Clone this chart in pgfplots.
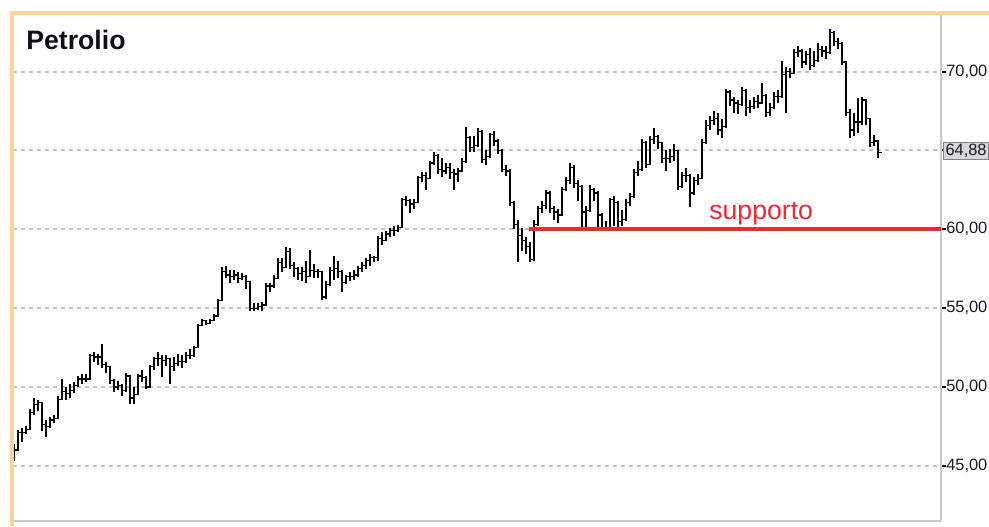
\documentclass[border=0pt]{standalone}
\usepackage{pgfplots}
\pgfplotsset{compat=1.18}
\usepackage{pgfplotstable}
\usepackage{fontspec}
\setmainfont{Liberation Sans}
\definecolor{frameor}{RGB}{255,212,155}
\definecolor{gridg}{RGB}{192,192,192}
\definecolor{axg}{RGB}{200,200,200}
\definecolor{supred}{RGB}{238,40,52}
\definecolor{lbl}{RGB}{25,25,45}
\pgfplotstableread{
x c h l
14 46.0 46.4 45.3
18 47.1 47.3 46.0
22 47.1 47.4 46.5
26 47.3 47.5 47.0
30 48.4 48.6 47.3
34 48.9 49.3 48.2
38 49.0 49.2 48.5
42 47.6 49.0 47.2
46 47.5 47.9 46.8
50 47.9 48.1 47.4
54 48.0 48.2 47.7
58 49.2 49.4 48.0
62 49.7 50.5 49.2
66 49.6 50.0 49.2
70 49.8 50.2 49.3
74 50.1 50.3 49.6
78 50.5 50.7 50.0
82 50.5 50.8 50.2
86 50.5 50.8 50.3
90 52.0 52.1 50.5
94 51.9 52.2 51.6
98 51.9 52.1 51.4
102 51.4 52.7 51.2
106 51.3 51.6 50.9
110 50.4 51.3 50.2
114 50.0 50.5 49.7
118 50.1 50.4 49.8
122 49.8 50.2 49.4
126 50.7 50.9 49.7
130 49.3 50.5 48.9
134 49.5 50.0 48.9
138 50.7 50.8 49.5
142 50.6 51.1 50.3
146 50.0 50.7 49.9
150 51.3 51.4 50.0
154 51.8 51.9 51.1
158 51.8 52.2 51.3
162 51.7 52.0 50.6
166 51.8 52.0 51.3
170 51.3 51.8 50.2
174 51.5 51.9 51.0
178 51.6 52.1 51.3
182 51.6 52.0 51.2
186 52.0 52.2 51.5
190 52.0 52.4 51.8
194 52.5 52.6 51.9
198 53.9 54.0 52.5
202 54.2 54.3 54.1
206 54.0 54.2 53.9
210 54.2 54.3 54.0
214 54.5 54.6 54.2
218 55.5 55.6 54.5
222 57.3 57.6 55.5
226 57.1 57.7 56.9
230 57.0 57.4 56.6
234 57.1 57.4 56.8
238 56.9 57.3 56.6
242 57.0 57.2 56.8
246 56.7 57.1 56.2
250 55.0 56.7 54.8
254 55.0 55.3 54.8
258 55.1 55.3 54.9
262 55.2 55.4 54.8
266 56.4 56.6 55.2
270 56.4 56.6 56.0
274 56.9 57.1 56.3
278 57.9 58.2 56.9
282 57.6 58.2 57.3
286 58.6 58.9 57.9
290 57.7 58.8 57.5
294 57.5 57.9 57.0
298 57.2 57.6 56.8
302 57.3 57.6 56.7
306 57.0 58.0 56.6
310 57.4 58.7 57.0
314 57.3 57.8 56.9
318 57.3 57.5 56.9
322 55.7 57.3 55.5
326 56.5 56.7 55.6
330 57.4 57.6 56.4
334 57.5 58.3 56.8
338 57.3 58.0 56.9
342 56.6 57.4 56.0
346 57.0 57.1 56.5
350 57.0 57.3 56.7
354 57.1 57.4 56.8
358 57.5 57.7 57.0
362 57.7 57.9 57.3
366 58.0 58.2 57.5
370 58.2 58.4 57.7
374 58.2 58.3 57.9
378 59.4 59.6 58.0
382 59.3 59.8 59.0
386 59.7 59.9 59.3
390 59.9 60.1 59.5
394 59.9 60.2 59.6
398 60.1 60.3 59.8
402 61.9 62.0 60.1
406 61.8 62.1 61.5
410 61.6 61.9 61.0
414 61.7 61.9 61.3
418 63.3 63.4 61.7
422 63.4 63.6 63.0
426 63.2 63.6 62.5
430 64.2 64.3 63.2
434 64.7 64.9 64.1
438 63.8 64.8 63.5
442 63.7 64.5 63.3
446 63.9 64.2 63.5
450 63.6 64.2 63.2
454 63.5 63.8 62.5
458 63.7 63.9 63.0
462 64.3 64.5 63.6
466 65.8 66.5 64.2
470 65.2 65.9 64.9
474 65.3 65.9 64.9
478 66.2 66.4 65.2
482 64.4 66.3 64.2
486 64.6 65.0 64.1
490 66.0 66.1 64.5
494 65.6 66.2 65.3
498 65.0 65.7 64.8
502 63.8 65.1 63.6
506 63.7 64.1 63.4
510 61.7 63.8 61.5
514 60.3 61.8 60.0
518 59.6 60.6 57.9
522 59.3 60.1 58.6
526 58.9 59.5 58.4
530 58.1 59.2 57.9
534 60.3 60.6 58.0
538 61.3 61.5 60.2
542 61.5 61.8 61.0
546 62.3 62.5 61.3
550 61.3 62.4 61.0
554 61.1 61.5 60.6
558 60.9 61.3 60.4
562 62.5 62.7 60.9
566 63.1 63.3 62.4
570 63.9 64.2 62.9
574 62.9 64.1 62.6
578 62.7 63.1 61.8
582 61.1 62.8 60.0
586 61.2 61.5 60.0
590 62.5 62.8 61.1
594 62.3 62.6 61.8
598 60.9 62.4 60.0
602 60.1 61.0 60.0
606 60.1 60.5 60.0
610 61.9 62.0 60.0
614 61.7 62.1 60.2
618 60.5 61.8 60.1
622 60.6 61.2 60.2
626 61.7 61.9 60.5
630 62.1 62.3 61.5
634 63.6 63.8 62.0
638 63.8 64.3 63.4
642 65.5 65.7 63.7
646 64.1 65.6 63.9
650 65.7 65.9 64.1
654 65.9 66.4 65.4
658 65.5 66.0 65.1
662 64.5 65.5 64.2
666 64.5 65.0 63.7
670 64.6 65.1 64.2
674 65.0 65.4 64.3
678 62.7 65.0 62.5
682 63.4 63.6 62.6
686 63.4 63.9 63.0
690 62.3 63.5 61.4
694 63.1 63.3 62.2
698 63.2 63.5 62.8
702 65.5 65.7 63.2
706 66.6 66.9 65.4
710 66.9 67.2 66.3
714 67.0 67.5 66.6
718 66.3 67.4 66.0
722 66.5 67.0 65.8
726 68.7 68.9 66.4
730 68.2 68.8 67.8
734 68.0 68.4 67.4
738 67.9 68.2 67.3
742 68.8 69.0 67.8
746 67.7 68.9 67.2
750 67.8 68.2 67.4
754 68.1 68.4 67.6
758 68.0 68.5 67.7
762 68.5 69.3 68.0
766 67.4 68.6 67.1
770 67.7 68.0 67.2
774 68.4 68.7 67.6
778 68.4 68.8 68.0
782 69.8 70.7 68.3
786 70.0 70.3 67.4
790 69.9 70.2 69.6
794 71.2 71.4 69.9
798 71.3 71.6 70.9
802 70.6 71.4 70.2
806 71.1 71.3 70.4
810 70.4 71.5 70.1
814 70.7 71.3 70.3
818 71.4 71.8 70.6
822 71.3 71.6 70.9
826 71.2 71.6 70.8
830 72.5 72.7 71.1
834 71.9 72.6 71.6
838 71.8 72.1 71.4
842 70.6 71.9 70.4
846 67.4 70.6 67.2
850 66.3 67.6 65.8
854 66.8 67.4 65.9
858 66.8 68.3 66.1
862 68.2 68.4 66.6
866 67.0 67.3 66.6
870 65.5 67.0 65.2
874 65.6 66.0 65.3
878 64.88 65.2 64.5
}\data
\begin{document}
\begin{tikzpicture}[x=0.75pt,y=0.75pt]
\useasboundingbox (0,0) rectangle (989,526);
\fill[white] (0,0) rectangle (989,526);
\begin{axis}[
  at={(9.75pt,3.75pt)}, anchor=south west,
  scale only axis, width=696pt, height=380.25pt,
  xmin=13, xmax=941, ymin=41.5, ymax=73.65,
  axis x line*=bottom, axis y line*=right,
  axis line style={axg, line width=1.1pt},
  xtick=\empty,
  ytick={45,50,55,60,65,70},
  yticklabels={{45,00},{50,00},{55,00},{60,00},{},{70,00}},
  tick align=outside,
  major tick length=3.75pt,
  major tick style={black, line width=1.5pt},
  ymajorgrids,
  major grid style={gridg, line width=1.5pt, dash pattern=on 3pt off 3pt},
  yticklabel style={font=\fontsize{12.3}{14}\selectfont, text=lbl, inner sep=0pt, xshift=0pt},
]
\addplot[draw=none, no marks, forget plot,
  error bars/.cd, y dir=both, y explicit,
  error bar style={draw=black, line width=0.9pt}, error mark=none]
  table[x=x, y=c, y error plus expr=\thisrow{h}-\thisrow{c}, y error minus expr=\thisrow{c}-\thisrow{l}] {\data};
\addplot[const plot, black, line width=0.9pt, no marks] table[x=x, y=c] {\data};
\addplot[black, line width=0.9pt, no marks] coordinates {(878,64.88) (882,64.88)};
\addplot[supred, line width=3.3pt, no marks] coordinates {(529,60) (941,60)};
\node[anchor=base west, text=supred, font=\fontsize{20}{24}\selectfont, inner sep=0pt] at (axis cs:709,60.6) {supporto};
\end{axis}
\draw[frameor, line width=3pt] (12,0) -- (12,513) -- (989,513);
\node[anchor=base west, inner sep=0pt, font=\bfseries\fontsize{20}{24}\selectfont, text={rgb,255:red,15;green,15;blue,25}] at (26,476) {Petrolio};
\node[anchor=west, inner sep=1.5pt, fill={rgb,255:red,216;green,216;blue,216}, draw={rgb,255:red,130;green,130;blue,130}, line width=0.8pt, font=\fontsize{12.3}{14}\selectfont, text=lbl] at (943,375) {64,88};
\end{tikzpicture}
\end{document}
